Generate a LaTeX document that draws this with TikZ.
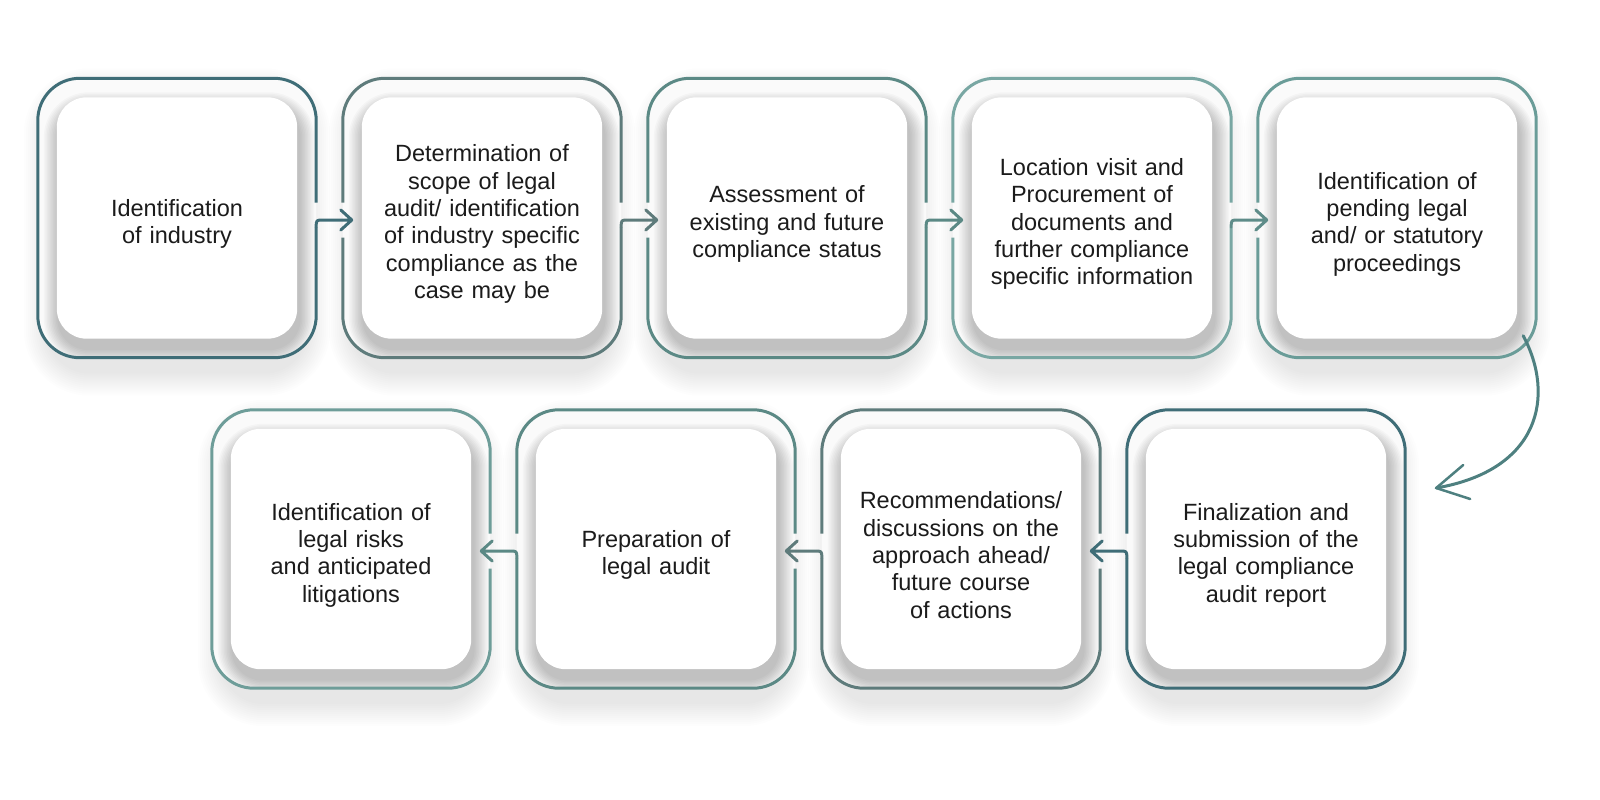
\documentclass[tikz,border=0pt]{standalone}
\usepackage{fontspec}
\setmainfont{Liberation Sans}
\usetikzlibrary{calc,backgrounds}
\definecolor{cA}{HTML}{3F6D77}
\definecolor{cB}{HTML}{5E7B7B}
\definecolor{cC}{HTML}{5B8985}
\definecolor{cD}{HTML}{79A7A3}
\definecolor{cE}{HTML}{6A9C98}
\definecolor{cF}{HTML}{6E9D99}
\definecolor{cG}{HTML}{4E8080}
\definecolor{cH}{HTML}{5E8C89}
\definecolor{txt}{HTML}{1B1B1B}
\begin{document}
\begin{tikzpicture}[x=1pt,y=-1pt,
  stepbox/.style={minimum width=278pt, minimum height=279pt, inner sep=0pt},
  lowbox/.style={stepbox, minimum height=278pt},
  steptext/.style={inner sep=0pt, text width=250pt, align=center, font=\fontsize{23.5}{27.3}\selectfont, text=txt},
  rim/.style={line width=3pt, rounded corners=42pt},
  link/.style={line width=3pt, line join=round, line cap=round},
]
\useasboundingbox (0,0) rectangle (1600,800);

\node[stepbox] (b1) at (177,218) {};
\node[stepbox] (b2) at (482,218) {};
\node[stepbox] (b3) at (787,218) {};
\node[stepbox] (b4) at (1092,218) {};
\node[stepbox] (b5) at (1397,218) {};
\node[lowbox] (b6) at (1266,549) {};
\node[lowbox] (b7) at (961,549) {};
\node[lowbox] (b8) at (656,549) {};
\node[lowbox] (b9) at (351,549) {};

\node[steptext] (l1) at ($(b1)+(0,6)$) {Identification\\of industry};
\node[steptext] (l2) at ($(b2)+(0,6)$) {Determination of\\scope of legal\\audit/ identification\\of industry specific\\compliance as the\\case may be};
\node[steptext] (l3) at ($(b3)+(0,6)$) {Assessment of\\existing and future\\compliance status};
\node[steptext] (l4) at ($(b4)+(0,6)$) {Location visit and\\Procurement of\\documents and\\further compliance\\specific information};
\node[steptext] (l5) at ($(b5)+(0,6)$) {Identification of\\pending legal\\and/ or statutory\\proceedings};
\node[steptext] (l6) at ($(b6)+(0,6)$) {Finalization and\\submission of the\\legal compliance\\audit report};
\node[steptext] (l7) at ($(b7)+(0,6)$) {Recommendations/\\discussions on the\\approach ahead/\\future course\\of actions};
\node[steptext] (l8) at ($(b8)+(0,6)$) {Preparation of\\legal audit};
\node[steptext] (l9) at ($(b9)+(0,6)$) {Identification of\\legal risks\\and anticipated\\litigations};

\begin{pgfonlayer}{background}
\fill[white] (0,0) rectangle (1600,800);
\foreach \i in {1,...,9}{
  \foreach \k [evaluate=\k as \rr using 42+2*\k] in {1,...,12}
    \fill[black,opacity=0.008,rounded corners=\rr pt] ($(b\i.north west)+(10-2*\k,14-2*\k)$) rectangle ($(b\i.south east)+(-10+2*\k,14+2*\k)$);
}
\foreach \i in {1,...,9}{
  \fill[white!98!black, rounded corners=42pt] (b\i.north west) rectangle (b\i.south east);
  \begin{scope}
    \clip[rounded corners=42pt] (b\i.north west) rectangle (b\i.south east);
    \foreach \k [evaluate=\k as \rr using 30+1.5*\k] in {1,...,10}
      \fill[black,opacity=0.022,rounded corners=\rr pt] ($(b\i.north west)+(21-1.5*\k,29-1.5*\k)$) rectangle ($(b\i.south east)+(-17+1.5*\k,-9+1.5*\k)$);
  \end{scope}
  \fill[white, rounded corners=30pt] ($(b\i.north west)+(19,19)$) rectangle ($(b\i.south east)+(-19,-19)$);
}
\end{pgfonlayer}

% top row outlines
\draw[rim,cA] ($(b1.east)+(0,-15.5)$) -- (b1.north east) -- (b1.north west) -- (b1.south west) -- (b1.south east) -- ($(b1.east)+(0,9)$);
\draw[rim,cB] ($(b2.east)+(0,-15.5)$) -- (b2.north east) -- (b2.north west) -- ($(b2.west)+(0,-15.5)$);
\draw[rim,cB] ($(b2.west)+(0,19.5)$) -- (b2.south west) -- (b2.south east) -- ($(b2.east)+(0,9)$);
\draw[rim,cC] ($(b3.east)+(0,-15.5)$) -- (b3.north east) -- (b3.north west) -- ($(b3.west)+(0,-15.5)$);
\draw[rim,cC] ($(b3.west)+(0,19.5)$) -- (b3.south west) -- (b3.south east) -- ($(b3.east)+(0,9)$);
\draw[rim,cD] ($(b4.east)+(0,-15.5)$) -- (b4.north east) -- (b4.north west) -- ($(b4.west)+(0,-15.5)$);
\draw[rim,cD] ($(b4.west)+(0,19.5)$) -- (b4.south west) -- (b4.south east) -- ($(b4.east)+(0,9)$);
\draw[rim,cE] ($(b5.west)+(0,19.5)$) -- (b5.south west) -- (b5.south east) -- (b5.north east) -- (b5.north west) -- ($(b5.west)+(0,-15.5)$);

% top row arrows
\draw[link,cA] ($(b1.east)+(0,9)$) .. controls ($(b1.east)+(0,2)$) .. ($(b1.east)+(7,2)$) -- ($(b2.west)+(9,2)$) coordinate (t12) -- ++(-11,-10) (t12) -- ++(-11,10);
\draw[link,cB] ($(b2.east)+(0,9)$) .. controls ($(b2.east)+(0,2)$) .. ($(b2.east)+(7,2)$) -- ($(b3.west)+(9,2)$) coordinate (t23) -- ++(-11,-10) (t23) -- ++(-11,10);
\draw[link,cC] ($(b3.east)+(0,9)$) .. controls ($(b3.east)+(0,2)$) .. ($(b3.east)+(7,2)$) -- ($(b4.west)+(9,2)$) coordinate (t34) -- ++(-11,-10) (t34) -- ++(-11,10);
\draw[link,cH] ($(b4.east)+(0,9)$) .. controls ($(b4.east)+(0,2)$) .. ($(b4.east)+(7,2)$) -- ($(b5.west)+(9,2)$) coordinate (t45) -- ++(-11,-10) (t45) -- ++(-11,10);

% bottom row outlines
\draw[rim,cA] ($(b6.west)+(0,-15.5)$) -- (b6.north west) -- (b6.north east) -- (b6.south east) -- (b6.south west) -- ($(b6.west)+(0,9)$);
\draw[rim,cB] ($(b7.west)+(0,-15.5)$) -- (b7.north west) -- (b7.north east) -- ($(b7.east)+(0,-15.5)$);
\draw[rim,cB] ($(b7.east)+(0,19.5)$) -- (b7.south east) -- (b7.south west) -- ($(b7.west)+(0,9)$);
\draw[rim,cC] ($(b8.west)+(0,-15.5)$) -- (b8.north west) -- (b8.north east) -- ($(b8.east)+(0,-15.5)$);
\draw[rim,cC] ($(b8.east)+(0,19.5)$) -- (b8.south east) -- (b8.south west) -- ($(b8.west)+(0,9)$);
\draw[rim,cF] ($(b9.east)+(0,19.5)$) -- (b9.south east) -- (b9.south west) -- (b9.north west) -- (b9.north east) -- ($(b9.east)+(0,-15.5)$);

% bottom row arrows
\draw[link,cA] ($(b6.west)+(0,9)$) .. controls ($(b6.west)+(0,2)$) .. ($(b6.west)+(-7,2)$) -- ($(b7.east)+(-9,2)$) coordinate (t67) -- ++(11,-10) (t67) -- ++(11,10);
\draw[link,cB] ($(b7.west)+(0,9)$) .. controls ($(b7.west)+(0,2)$) .. ($(b7.west)+(-7,2)$) -- ($(b8.east)+(-9,2)$) coordinate (t78) -- ++(11,-10) (t78) -- ++(11,10);
\draw[link,cC] ($(b8.west)+(0,9)$) .. controls ($(b8.west)+(0,2)$) .. ($(b8.west)+(-7,2)$) -- ($(b9.east)+(-9,2)$) coordinate (t89) -- ++(11,-10) (t89) -- ++(11,10);

% curved arrow from row 1 to row 2
\draw[link,cG] ($(b5.south east)+(-13,-22)$) .. controls ($(b5.south east)+(19,38)$) and ($(b6.east)+(135,-79)$) .. ($(b6.east)+(31,-61)$) coordinate (tc);
\draw[link,cG,line width=2.5pt] ($(tc)+(27,-23)$) -- (tc) -- ++(34,11);
\end{tikzpicture}
\end{document}
